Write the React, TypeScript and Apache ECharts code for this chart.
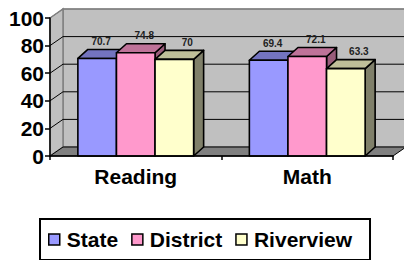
import React, { useEffect, useRef } from "react";
import * as echarts from "echarts";

const categories = ["Reading", "Math"];
const seriesNames = ["State", "District", "Riverview"];
const stateValues = [70.7, 69.4];
const districtValues = [74.8, 72.1];
const riverviewValues = [70, 63.3];
const yTicks = [0, 20, 40, 60, 80, 100];

const frontColors = ["#9999FF", "#FF99CC", "#FFFFCC"];
const topColors = ["#7373BF", "#BF7399", "#BFBF99"];
const sideColors = ["#4D4D80", "#995C7A", "#80806A"];

const WDX = 13;
const WDY = -9;
const BDX = 10;
const BDY = -9;
const FONT = "'Liberation Sans', Arial, sans-serif";

function wallsRender(params: any, api: any) {
  const cs = params.coordSys;
  const left = cs.x;
  const right = cs.x + cs.width;
  const top = cs.y;
  const bottom = cs.y + cs.height;
  const farRight = right + WDX + 20;
  const children: any[] = [];
  children.push({
    type: "polygon",
    shape: { points: [[left + WDX, top + WDY], [farRight, top + WDY], [farRight, bottom + WDY], [left + WDX, bottom + WDY]] },
    style: { fill: "#C0C0C0", stroke: "#808080", lineWidth: 1.5 },
  });
  children.push({
    type: "polygon",
    shape: { points: [[left, top], [left + WDX, top + WDY], [left + WDX, bottom + WDY], [left, bottom]] },
    style: { fill: "#C0C0C0", stroke: "#808080", lineWidth: 1.5 },
  });
  yTicks.forEach((v) => {
    if (v === 0) return;
    const y = api.coord([0, v])[1];
    children.push({
      type: "polyline",
      shape: { points: [[left, y], [left + WDX, y + WDY], [farRight, y + WDY]] },
      style: { fill: null, stroke: v === 100 ? "#808080" : "#000", lineWidth: 1 },
    });
  });
  children.push({
    type: "polygon",
    shape: { points: [[left, bottom], [right, bottom], [right + WDX, bottom + WDY], [left + WDX, bottom + WDY]] },
    style: { fill: "#808080", stroke: "#000", lineWidth: 1 },
  });
  return { type: "group", children };
}

function makeBarRender(s: number) {
  return (params: any, api: any) => {
    const ci = api.value(0);
    const v = api.value(1);
    const base = api.coord([ci, 0]);
    const topPt = api.coord([ci, v]);
    const band = api.size([1, 0])[0];
    const bw = band * 0.225;
    const x0 = base[0] - 1.5 * bw + s * bw;
    const x1 = x0 + bw;
    const yb = base[1];
    const yt = topPt[1];
    const st = { stroke: "#000", lineWidth: 1.6, lineJoin: "round" };
    return {
      type: "group",
      children: [
        {
          type: "polygon",
          shape: { points: [[x1, yt], [x1 + BDX, yt + BDY], [x1 + BDX, yb + BDY], [x1, yb]] },
          style: { fill: sideColors[s], ...st },
        },
        {
          type: "polygon",
          shape: { points: [[x0, yt], [x0 + BDX, yt + BDY], [x1 + BDX, yt + BDY], [x1, yt]] },
          style: { fill: topColors[s], ...st },
        },
        {
          type: "polygon",
          shape: { points: [[x0, yt], [x1, yt], [x1, yb], [x0, yb]] },
          style: { fill: frontColors[s], ...st },
        },
        {
          type: "text",
          style: {
            text: String(v),
            x: x0 + bw / 2 + 4 + 4.5 * s,
            y: yt + BDY - 8,
            align: "center",
            verticalAlign: "middle",
            font: "bold 10px " + FONT,
            fill: "#222",
          },
        },
      ],
    };
  };
}

export default function App() {
  const ref = useRef<HTMLDivElement>(null);
  useEffect(() => {
    if (!ref.current) return;
    const chart = echarts.init(ref.current, null, { renderer: "svg" });
    const valueSets = [stateValues, districtValues, riverviewValues];
    chart.setOption({
      animation: false,
      backgroundColor: "#fff",
      grid: { left: 50, right: 11, top: 18, bottom: 104, containLabel: false },
      xAxis: {
        type: "category",
        data: categories,
        z: 10,
        axisLine: { show: true, lineStyle: { color: "#000", width: 1.5 } },
        axisTick: { show: true, length: 4, lineStyle: { color: "#000", width: 1.5 } },
        axisLabel: { color: "#000", fontFamily: FONT, fontWeight: "bold", fontSize: 21, margin: 10 },
        splitLine: { show: false },
      },
      yAxis: {
        type: "value",
        min: 0,
        max: 100,
        interval: 20,
        z: 10,
        axisLine: { show: true, lineStyle: { color: "#000", width: 1.5 } },
        axisTick: { show: true, length: 5, lineStyle: { color: "#000", width: 1.5 } },
        axisLabel: { color: "#000", fontFamily: FONT, fontWeight: "bold", fontSize: 21, margin: 6 },
        splitLine: { show: false },
      },
      legend: {
        data: seriesNames,
        left: 40,
        top: 219,
        orient: "horizontal",
        icon: "rect",
        itemWidth: 11,
        itemHeight: 11,
        itemGap: 13,
        padding: [10, 18, 10, 8],
        borderColor: "#000",
        borderWidth: 2,
        itemStyle: { borderColor: "#000", borderWidth: 1.5 },
        textStyle: { color: "#000", fontFamily: FONT, fontWeight: "bold", fontSize: 21, padding: [0, 0, 0, 2] },
      },
      series: [
        {
          name: "walls",
          type: "custom",
          silent: true,
          z: 1,
          data: [[0, 0]],
          renderItem: wallsRender,
        },
        ...seriesNames.map((name, s) => ({
          name,
          type: "custom",
          z: 2 + s,
          itemStyle: { color: frontColors[s], borderColor: "#000" },
          data: categories.map((_, i) => [i, valueSets[s][i]]),
          renderItem: makeBarRender(s),
        })),
      ],
    });
    return () => chart.dispose();
  }, []);
  return <div ref={ref} style={{ position: "fixed", left: 0, top: 0, width: 404, height: 260 }} />;
}
